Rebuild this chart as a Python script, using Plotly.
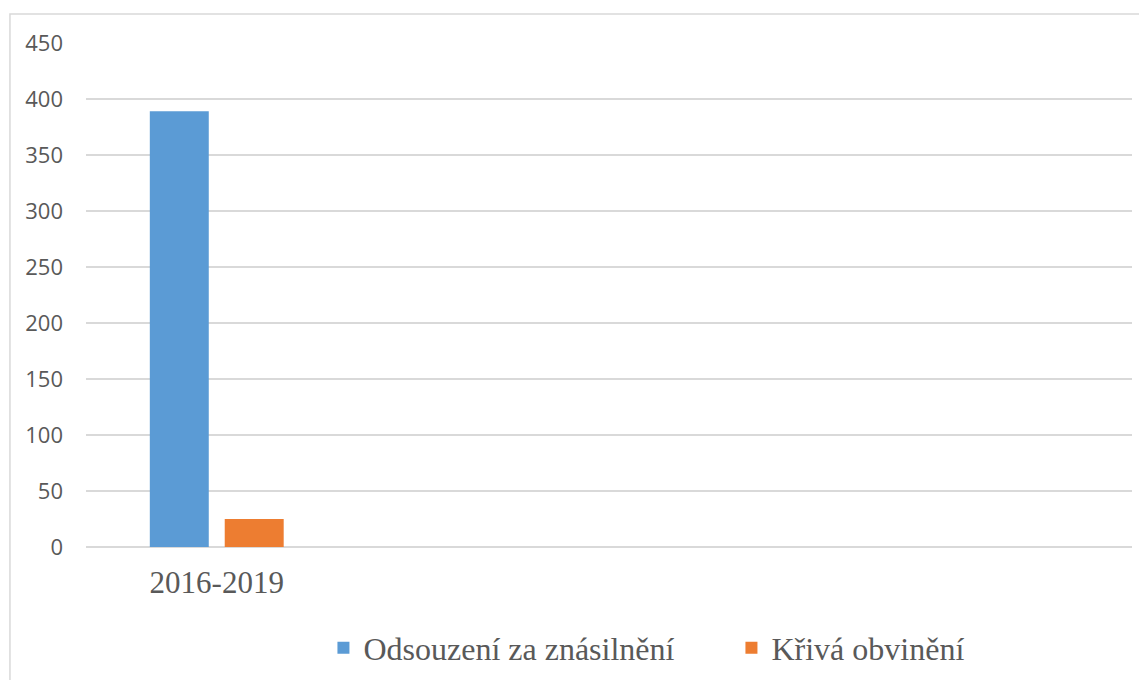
import plotly.graph_objects as go

categories = ["2016-2019"]
axis_categories = ["2016-2019", " ", "  ", "   "]
series_names = ["Odsouzení za znásilnění", "Křivá obvinění"]
odsouzeni = [389]
kriva = [25]
colors = ["#5B9BD5", "#ED7D31"]
y_ticks = [0, 50, 100, 150, 200, 250, 300, 350, 400, 450]

fig = go.Figure()
fig.add_trace(go.Bar(x=categories, y=odsouzeni, name=series_names[0],
                     marker=dict(color=colors[0], line=dict(width=0))))
fig.add_trace(go.Bar(x=categories, y=kriva, name=series_names[1],
                     marker=dict(color=colors[1], line=dict(width=0))))

fig.update_layout(
    width=1139, height=672,
    margin=dict(l=78, r=15, t=35, b=133),
    paper_bgcolor="white", plot_bgcolor="white",
    barmode="group", bargap=0.427, bargroupgap=0.213,
    showlegend=True,
    legend=dict(orientation="h", x=0.227, xanchor="left",
                yref="container", y=0.0476, yanchor="middle",
                entrywidth=363, entrywidthmode="pixels",
                font=dict(family="Liberation Serif", size=32, color="#595959"),
                traceorder="normal"),
    xaxis=dict(type="category", categoryorder="array", categoryarray=axis_categories,
               range=[-0.5, 3.5], showgrid=False, showline=False, zeroline=False,
               ticks="", ticklabelstandoff=14,
               tickfont=dict(family="Liberation Serif", size=31, color="#595959")),
    yaxis=dict(range=[0, 450], tickvals=y_ticks, showgrid=True, gridcolor="#D9D9D9",
               gridwidth=1.5, zeroline=True, zerolinecolor="#D9D9D9", zerolinewidth=1.5,
               showline=False, ticks="", ticklabelstandoff=22,
               tickfont=dict(family="Open Sans", size=22, color="#595959")),
    shapes=[dict(type="rect", xref="paper", yref="paper",
                 x0=-0.0727, x1=1.05, y0=-0.3, y1=1.0575,
                 line=dict(color="#D9D9D9", width=1.5), fillcolor="rgba(0,0,0,0)",
                 layer="below")],
)

fig.write_html("out.html")
